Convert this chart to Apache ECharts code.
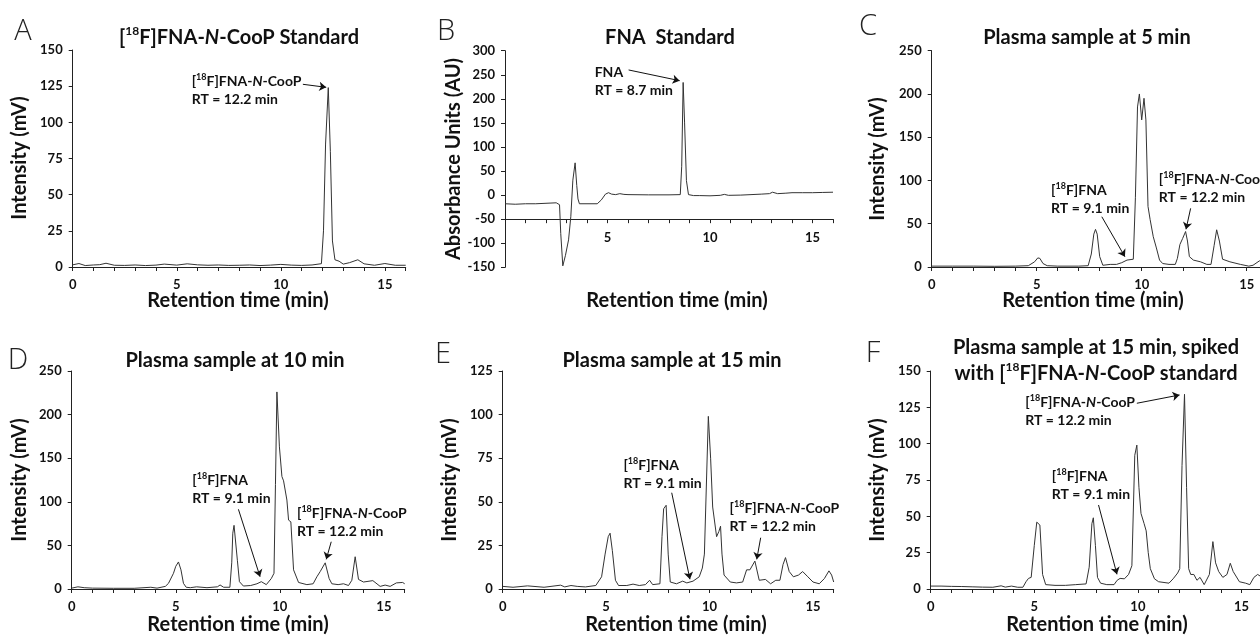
<!DOCTYPE html>
<html>
<head>
<meta charset="utf-8">
<script src="https://cdn.jsdelivr.net/npm/echarts@6/dist/echarts.min.js"></script>
<style>
  html, body { margin: 0; padding: 0; background: #fff; }
  #chart { width: 1260px; height: 636px; }
</style>
</head>
<body>
<div id="chart"></div>
<script>
// chromatogram traces (time in min, signal in mV / AU)
const timeA = [0, 0.3, 0.6, 1.0, 1.3, 1.6, 2.0, 2.5, 3.0, 3.5, 4.0, 4.4, 5.0, 5.5, 6.0, 6.5, 7.0, 7.5, 8.0, 8.5, 9.0, 9.5, 10.0, 10.5, 11.0, 11.5, 11.95, 12.05, 12.15, 12.28, 12.38, 12.48, 12.6, 12.8, 13.0, 13.3, 13.7, 14.0, 14.5, 15.0, 15.5, 16.0];
const signalA = [1.5, 2.4, 1.0, 1.4, 1.6, 2.6, 1.2, 1.1, 1.4, 1.0, 1.3, 2.0, 1.3, 2.2, 1.5, 1.2, 1.4, 1.1, 1.2, 1.4, 1.0, 1.3, 1.8, 1.3, 1.1, 1.4, 2.3, 25, 85, 124, 80, 18, 5, 4, 2, 3, 5, 2.2, 1.2, 2.4, 1.2, 1.2];

const timeB = [0, 0.5, 1.0, 1.5, 2.0, 2.5, 2.66, 2.72, 2.82, 2.95, 3.1, 3.21, 3.31, 3.42, 3.5, 3.56, 3.63, 4.0, 4.5, 4.7, 4.9, 5.05, 5.2, 5.4, 5.6, 5.8, 6.0, 7.0, 8.0, 8.55, 8.62, 8.69, 8.76, 8.85, 8.95, 9.2, 9.5, 10.0, 10.5, 10.7, 10.9, 11.5, 12.0, 12.5, 12.9, 13.05, 13.3, 13.7, 14.0, 14.5, 15.0, 15.5, 16.0];
const signalB = [-18, -19, -18, -18, -17, -16, -20, -80, -147, -125, -93, -45, 31, 67, 20, -8, -18, -18, -18, -10, 2, 5, 2, 1, 3, 1.5, 1, 0.5, 0.5, 1, 60, 234, 150, 30, 1, -1, -1, -1.5, -0.5, 1.5, -0.5, 0, 1, 2, 3, 6, 3, 4, 5, 5, 5, 5.5, 6];

const timeC = [0, 1, 2, 3, 4, 4.6, 4.9, 5.05, 5.15, 5.3, 5.5, 6, 7, 7.45, 7.6, 7.72, 7.8, 7.88, 8.0, 8.15, 8.5, 8.8, 9.05, 9.3, 9.6, 9.7, 9.8, 9.89, 10.0, 10.11, 10.2, 10.3, 10.4, 10.55, 10.7, 10.85, 11.0, 11.3, 11.6, 11.7, 11.82, 11.95, 12.09, 12.18, 12.27, 12.46, 12.8, 13.1, 13.3, 13.45, 13.57, 13.7, 13.85, 14.2, 14.7, 15.1, 15.3, 15.6, 16];
const signalC = [1, 1, 1, 0.8, 1, 1.5, 6, 10.5, 10, 4, 1.5, 1, 1, 1.5, 15, 38, 43.5, 38, 12, 2, 3, 3, 5, 8, 9, 80, 185, 200, 170, 195, 170, 70, 55, 35, 22, 8, 4, 3, 3, 10, 26, 33, 41, 30, 12, 8, 6, 3, 3, 25, 43, 30, 9, 6, 3, 1, 2, 7, 10];

const timeD = [0, 0.3, 0.6, 1, 2, 3, 3.8, 4.1, 4.5, 4.65, 4.89, 5.0, 5.13, 5.25, 5.37, 5.5, 5.7, 6.0, 6.5, 7.0, 7.13, 7.3, 7.6, 7.69, 7.74, 7.8, 7.87, 7.96, 8.06, 8.25, 8.6, 8.9, 9.11, 9.35, 9.59, 9.72, 9.79, 9.86, 9.98, 10.1, 10.18, 10.34, 10.42, 10.53, 10.66, 10.9, 11.3, 11.6, 11.78, 11.94, 12.18, 12.37, 12.5, 12.8, 13.06, 13.3, 13.46, 13.62, 13.78, 14.02, 14.47, 14.82, 15.06, 15.3, 15.6, 15.9, 16];
const signalD = [1, 2.5, 1.5, 1, 0.8, 0.8, 2, 1, 3, 6.5, 18, 26, 31, 22, 6.5, 2, 1.5, 2.5, 1.5, 2.5, 4.6, 2, 2, 30, 64, 73, 75, 33, 8.4, 3.4, 4, 6, 8.4, 5, 12, 18, 120, 226, 163, 129, 124, 102, 79, 77, 22, 7.5, 5, 6, 14, 20, 30, 12, 6, 5, 6, 4, 10, 37, 11, 8, 9.6, 3, 4.5, 3, 7, 7.5, 6];

const timeE = [0, 0.5, 1.2, 2, 2.8, 3.0, 3.3, 3.6, 4.0, 4.5, 4.78, 4.95, 5.1, 5.19, 5.3, 5.45, 5.6, 6.0, 6.3, 6.6, 6.9, 7.1, 7.25, 7.6, 7.7, 7.78, 7.84, 7.9, 8.0, 8.1, 8.4, 8.7, 8.9, 9.2, 9.5, 9.65, 9.75, 9.94, 10.05, 10.15, 10.34, 10.45, 10.53, 10.6, 10.7, 11.0, 11.3, 11.6, 11.79, 11.95, 12.19, 12.4, 12.7, 12.95, 13.2, 13.4, 13.55, 13.67, 13.85, 14.05, 14.3, 14.5, 14.75, 15.0, 15.3, 15.55, 15.77, 15.9, 16];
const signalE = [1.5, 1, 1.8, 1, 2.2, 1.2, 2, 1.5, 1.2, 2, 7, 20, 30, 32, 22, 5, 2, 2, 2.8, 2, 2.5, 5, 2.5, 3, 30, 46, 45, 48, 20, 4, 3, 4.5, 3.5, 4.5, 7, 12, 20, 99, 75, 47, 30, 33, 36, 20, 8, 4, 3.5, 4, 11, 11, 16, 5, 5.5, 3, 5, 5, 14, 18, 10, 7, 8, 10, 7, 4, 3, 6, 10.4, 8, 4];

const timeF = [0, 0.5, 1.0, 1.5, 2.0, 2.5, 3.0, 3.4, 3.6, 3.9, 4.2, 4.45, 4.6, 4.72, 4.85, 5.0, 5.12, 5.2, 5.27, 5.4, 5.55, 6, 6.5, 7, 7.5, 7.65, 7.78, 7.85, 7.95, 8.05, 8.2, 8.5, 8.85, 9.0, 9.14, 9.35, 9.55, 9.71, 9.85, 9.95, 10.05, 10.15, 10.3, 10.4, 10.5, 10.6, 10.8, 11.0, 11.5, 11.7, 11.92, 12.02, 12.13, 12.25, 12.35, 12.45, 12.55, 12.7, 12.85, 13.0, 13.2, 13.45, 13.62, 13.75, 13.9, 14.1, 14.3, 14.46, 14.6, 14.9, 15.2, 15.4, 15.6, 15.78, 16];
const signalF = [2, 2, 1.8, 1.7, 1.5, 1.3, 1.2, 2.2, 1.3, 2, 1.2, 1.2, 5, 7.3, 8, 30, 46, 45, 44, 10, 3, 2.5, 2.5, 3, 3.5, 15, 45, 49, 30, 8, 4, 3, 3, 6, 7.3, 7, 10, 16, 92, 99, 70, 52, 45, 40, 25, 14, 7, 5, 4, 7, 11, 14, 85, 134, 70, 14, 10, 10, 6, 8, 3, 10, 32.6, 18, 12, 8, 10, 17.7, 12, 5, 4, 3, 8, 10, 8];

const yMins = [0, -150, 0, 0, 0, 0];
const yMaxs = [150, 300, 250, 250, 125, 150];
const ySteps = [25, 50, 50, 50, 25, 25];
const xTickLabels = [0, 5, 10, 15];
const xCrossB = -50; // panel B: the x axis crosses at -50
const yNames = ['Intensity (mV)', 'Absorbance Units (AU)', 'Intensity (mV)', 'Intensity (mV)', 'Intensity (mV)', 'Intensity (mV)'];
const xName = 'Retention time (min)';
const letters = ['A', 'B', 'C', 'D', 'E', 'F'];

const COOP = '[{s|18}F]FNA-{i|N}-CooP';
const FNA18 = '[{s|18}F]FNA';
const titles = [
  COOP + ' Standard',
  'FNA  Standard',
  'Plasma sample at 5 min',
  'Plasma sample at 10 min',
  'Plasma sample at 15 min',
  'Plasma sample at 15 min, spiked\nwith ' + COOP + ' standard'
];

// annotations: text top-left and arrow, in data coords of each panel
const notes = [
  [{ text: COOP + '\nRT = 12.2 min', at: [5.74, 134], from: [11.06, 126.3], to: [12.18, 124.2] }],
  [{ text: 'FNA\nRT = 8.7 min', at: [4.4, 272], from: [6.03, 260], to: [8.52, 237.7] }],
  [{ text: FNA18 + '\nRT = 9.1 min', at: [5.71, 98], from: [8.1, 58.1], to: [9.2, 11.9] },
   { text: COOP + '\nRT = 12.2 min', at: [10.84, 111], from: [12.33, 67.8], to: [12.11, 43.6] }],
  [{ text: FNA18 + '\nRT = 9.1 min', at: [5.82, 134.5], from: [8.01, 91.4], to: [9.05, 14.1] },
   { text: COOP + '\nRT = 12.2 min', at: [10.85, 96.3], from: [12.47, 54.2], to: [12.23, 34] }],
  [{ text: FNA18 + '\nRT = 9.1 min', at: [5.86, 75.9], from: [8.17, 55.2], to: [9.05, 5.6] },
   { text: COOP + '\nRT = 12.2 min', at: [10.99, 50.9], from: [12.47, 29.4], to: [12.28, 17] }],
  [{ text: COOP + '\nRT = 12.2 min', at: [4.59, 134], from: [9.95, 127.8], to: [12.01, 133.5] },
   { text: FNA18 + '\nRT = 9.1 min', at: [5.87, 83.1], from: [8.1, 57.8], to: [8.99, 10.1] }]
];

const traces = [[timeA, signalA], [timeB, signalB], [timeC, signalC], [timeD, signalD], [timeE, signalE], [timeF, signalF]];

// layout
const grids = [
  { left: 72.7, top: 50, width: 333, height: 217 },
  { left: 505, top: 50.7, width: 328, height: 216.6 },
  { left: 931.7, top: 50.7, width: 336, height: 216.3 },
  { left: 71.7, top: 371, width: 333, height: 218 },
  { left: 502.7, top: 371, width: 331, height: 218 },
  { left: 930.7, top: 371, width: 331.5, height: 218 }
];
const letterPos = [[23, 32], [446, 32], [868, 27], [18, 361], [443, 355], [873, 354]];
const titlePos = [[239, 38], [670, 38], [1087, 38], [235, 361], [672, 361], [1096, 361]];
const xNamePos = [[238, 301], [677, 301], [1093, 301], [238, 625], [676, 625], [1097, 625]];
const yNamePos = [[20, 158], [454, 159], [878, 159], [20, 480], [450, 480], [878, 480]];

const FONT = 'Lato, "Liberation Sans", sans-serif';
const INK = '#111';

function richFor(size) {
  return {
    s: { fontSize: Math.round(size * 0.62), fontWeight: 'bold', fontFamily: FONT, color: INK, fill: INK, verticalAlign: 'top' },
    i: { fontSize: size, fontWeight: 'bold', fontStyle: 'italic', fontFamily: FONT, color: INK, fill: INK }
  };
}

function label(text, x, y, size, extra) {
  return Object.assign({
    type: 'text', x: x, y: y, silent: true,
    style: { text: text, fontFamily: FONT, fontWeight: 'bold', fontSize: size, fill: INK, align: 'center', verticalAlign: 'middle' }
  }, extra || {});
}

const chart = echarts.init(document.getElementById('chart'));

const xAxis = [], yAxis = [], series = [], graphic = [];
grids.forEach(function (g, i) {
  xAxis.push({
    type: 'value', gridIndex: i, min: 0, max: 16, interval: 1,
    axisLine: i === 1 ? { show: true, onZero: true, onZeroAxisIndex: 6, lineStyle: { color: '#222', width: 1 } }
                      : { show: true, lineStyle: { color: '#222', width: 1 } },
    axisTick: { show: true, length: 4, lineStyle: { color: '#222' } },
    axisLabel: {
      show: i !== 1, margin: 11, fontFamily: FONT, fontWeight: 'bold', fontSize: 13, color: INK,
      formatter: function (v) { return xTickLabels.indexOf(v) >= 0 ? String(v) : ''; }
    },
    splitLine: { show: false }
  });
  yAxis.push({
    type: 'value', gridIndex: i, min: yMins[i], max: yMaxs[i], interval: ySteps[i],
    axisLine: { show: true, lineStyle: { color: '#222', width: 1 } },
    axisTick: { show: true, length: 4, lineStyle: { color: '#222' } },
    axisLabel: { margin: 10, fontFamily: FONT, fontWeight: 'bold', fontSize: 13, color: INK },
    splitLine: { show: false }
  });
  const tr = traces[i];
  series.push({
    type: 'line', xAxisIndex: i, yAxisIndex: i,
    data: tr[0].map(function (t, k) { return [t, tr[1][k]]; }),
    symbol: 'none', silent: true,
    lineStyle: { color: '#333', width: 1 },
    markLine: {
      silent: true, symbol: ['none', 'arrow'], symbolSize: 7, animation: false,
      label: { show: false },
      lineStyle: { color: '#111', width: 1, type: 'solid' },
      data: notes[i].map(function (n) { return [{ coord: n.from }, { coord: n.to }]; })
    },
    markPoint: {
      silent: true, symbol: 'circle', symbolSize: 1, animation: false,
      itemStyle: { color: 'rgba(0,0,0,0)' },
      data: notes[i].map(function (n) {
        return {
          coord: n.at,
          label: {
            show: true, position: [0, 0], align: 'left', verticalAlign: 'top',
            fontFamily: FONT, fontWeight: 'bold', fontSize: 14, color: INK, lineHeight: 18,
            rich: richFor(14),
            formatter: function () { return n.text; }
          }
        };
      })
    }
  });
  graphic.push({
    type: 'text', x: letterPos[i][0], y: letterPos[i][1], silent: true,
    style: { text: letters[i], fontFamily: '"Open Sans", sans-serif', fontWeight: 300, fontSize: 29, fill: '#222', align: 'center', verticalAlign: 'middle' }
  });
  const t = label(titles[i], titlePos[i][0], titlePos[i][1], 20);
  t.style.lineHeight = 26;
  t.style.rich = richFor(20);
  graphic.push(t);
  graphic.push(label(xName, xNamePos[i][0], xNamePos[i][1], 20));
  graphic.push(label(yNames[i], yNamePos[i][0], yNamePos[i][1], 20, { rotation: Math.PI / 2 }));
});

// hidden helper axis so panel B's x axis line sits at -50
yAxis.push({ type: 'value', gridIndex: 1, min: -100, max: 350, show: false });

chart.setOption({
  animation: false,
  backgroundColor: '#fff',
  grid: grids.map(function (g) { return Object.assign({ outerBoundsMode: 'none' }, g); }),
  xAxis: xAxis,
  yAxis: yAxis,
  series: series,
  graphic: graphic
});

// panel B tick labels follow the crossing line (0 is hidden by the y axis)
xTickLabels.filter(function (v) { return v > 0; }).forEach(function (v) {
  const p = chart.convertToPixel({ xAxisIndex: 1, yAxisIndex: 1 }, [v, xCrossB]);
  graphic.push(label(String(v), p[0], p[1] + 19, 13));
});
chart.setOption({ graphic: graphic });
</script>
</body>
</html>
